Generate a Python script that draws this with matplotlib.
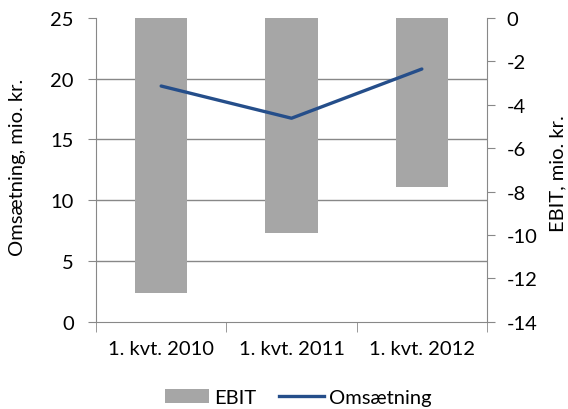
import numpy as np
import matplotlib
matplotlib.use("Agg")
import matplotlib.pyplot as plt
from matplotlib.patches import Patch
from matplotlib.lines import Line2D

# data
quarters = ["1. kvt. 2010", "1. kvt. 2011", "1. kvt. 2012"]
ebit = [-12.7, -9.9, -7.8]          # mio. kr., right axis
omsaetning = [19.4, 16.75, 20.8]    # mio. kr., left axis
left_ticks = [0, 5, 10, 15, 20, 25]
right_ticks = [-14, -12, -10, -8, -6, -4, -2, 0]

plt.rcParams["font.family"] = ["Lato", "DejaVu Sans"]
plt.rcParams["font.size"] = 14.5
plt.rcParams["axes.unicode_minus"] = False

grid_col = "#888888"
bar_col = "#a6a6a6"
line_col = "#254e8a"

fig = plt.figure(figsize=(5.68, 4.10), dpi=100)
ax = fig.add_axes([96 / 568, 1 - 322.7 / 410, 391 / 568, 303.7 / 410])
ax2 = ax.twinx()  # note: twinx resets ax ticks to the left, so set sides afterwards

x = np.arange(len(quarters))

# bars on the primary axes (EBIT, ticks on the right)
ax.bar(x, ebit, width=0.4, color=bar_col, zorder=2)
ax.set_ylim(right_ticks[0], right_ticks[-1])
ax.set_yticks(right_ticks)
ax.yaxis.tick_right()
ax.set_xlim(-0.5, len(quarters) - 0.5)
ax.set_xticks(x)
ax.set_xticklabels(quarters)
ax.set_xticks(np.arange(len(quarters) + 1) - 0.5, minor=True)
ax.tick_params(axis="x", which="major", length=0, pad=13)
ax.tick_params(axis="x", which="minor", length=7, color=grid_col, direction="out")
ax.tick_params(axis="y", which="major", length=6, color=grid_col, pad=8)

# horizontal grid follows the left scale but sits under the bars
ax.set_yticks(np.linspace(right_ticks[0], right_ticks[-1], len(left_ticks)), minor=True)
ax.tick_params(axis="y", which="minor", length=0)
ax.grid(axis="y", which="minor", color=grid_col, linewidth=1, zorder=0)
ax.set_axisbelow(True)

for side in ["left", "right", "bottom"]:
    ax.spines[side].set_color(grid_col)
ax.spines["top"].set_visible(False)

ax.set_ylabel("EBIT, mio. kr.")
ax.yaxis.set_label_position("right")
ax.yaxis.set_label_coords(1.16, 0.49)

# line on the twin axes (Omsætning, ticks on the left)
ax2.plot(x, omsaetning, color=line_col, linewidth=2.4, solid_capstyle="round", zorder=3)
ax2.set_ylim(left_ticks[0], left_ticks[-1])
ax2.set_yticks(left_ticks)
ax2.yaxis.tick_left()
ax2.tick_params(axis="y", length=6, color=grid_col, pad=10)
for s in ax2.spines.values():
    s.set_visible(False)
ax2.set_ylabel("Omsætning, mio. kr.")
ax2.yaxis.set_label_position("left")
ax2.yaxis.set_label_coords(-0.18, 0.51)

handles = [Patch(facecolor=bar_col, edgecolor="none"),
           Line2D([0], [0], color=line_col, linewidth=2.4)]
fig.legend(handles, ["EBIT", "Omsætning"], loc="lower center",
           bbox_to_anchor=(298 / 568, -0.038), ncol=2, frameon=False,
           handlelength=2.2, handletextpad=0.25, columnspacing=1.15)

fig.savefig("out.png", dpi=100)
